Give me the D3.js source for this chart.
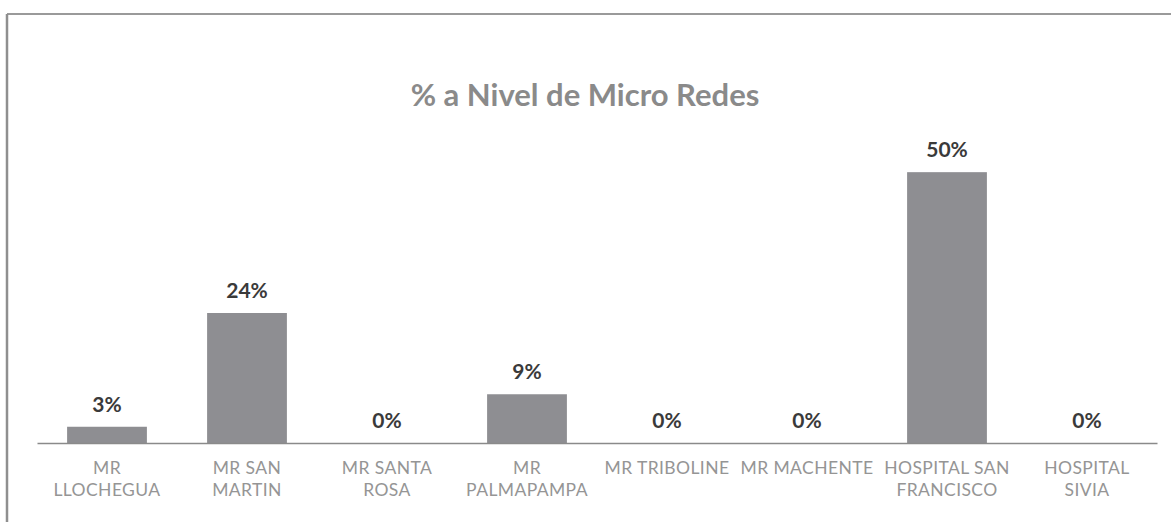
<!DOCTYPE html>
<html>
<head>
<meta charset="utf-8">
<script src="https://cdn.jsdelivr.net/npm/d3@7"></script>
<style>
  body { margin: 0; background: #fff; }
  svg { display: block; }
</style>
</head>
<body>
<div id="chart"></div>
<script>
const width = 1171;
const height = 522;

// data
const categories = ['MR LLOCHEGUA', 'MR SAN MARTIN', 'MR SANTA ROSA', 'MR PALMAPAMPA',
    'MR TRIBOLINE', 'MR MACHENTE', 'HOSPITAL SAN FRANCISCO', 'HOSPITAL SIVIA'];
const tickLines = [['MR', 'LLOCHEGUA'], ['MR SAN', 'MARTIN'], ['MR SANTA', 'ROSA'], ['MR', 'PALMAPAMPA'],
    ['MR TRIBOLINE'], ['MR MACHENTE'], ['HOSPITAL SAN', 'FRANCISCO'], ['HOSPITAL', 'SIVIA']];
const values = [3, 24, 0, 9, 0, 0, 50, 0];

const margin = {top: 118, right: 14, bottom: 79, left: 37};

const svg = d3.select('#chart').append('svg')
    .attr('width', width)
    .attr('height', height);

// frame of the scanned chart (top + left edges visible)
svg.append('line').attr('x1', 7).attr('x2', width).attr('y1', 14).attr('y2', 14)
    .attr('stroke', '#9a9a9a').attr('stroke-width', 2);
svg.append('line').attr('x1', 7).attr('x2', 7).attr('y1', 14).attr('y2', height)
    .attr('stroke', '#8f8f8f').attr('stroke-width', 2.5);

svg.append('text')
    .attr('x', 585)
    .attr('y', 106)
    .attr('text-anchor', 'middle')
    .style('font-family', 'Lato, sans-serif')
    .style('font-size', '31px')
    .style('font-weight', 'bold')
    .style('fill', '#8a8a8a')
    .text('% a Nivel de Micro Redes');

const x = d3.scaleBand()
    .domain(categories)
    .range([margin.left, width - margin.right])
    .paddingInner(0.43)
    .paddingOuter(0.215);

const y = d3.scaleLinear()
    .domain([0, 60])
    .range([height - margin.bottom, margin.top]);

const chart = svg.append('g');

chart.selectAll('rect.bar')
    .data(values)
    .join('rect')
    .attr('class', 'bar')
    .attr('x', (d, i) => x(categories[i]))
    .attr('y', d => y(d))
    .attr('width', x.bandwidth())
    .attr('height', d => y(0) - y(d))
    .style('fill', '#8e8e92');

chart.selectAll('text.val')
    .data(values)
    .join('text')
    .attr('class', 'val')
    .attr('x', (d, i) => x(categories[i]) + x.bandwidth() / 2)
    .attr('y', d => y(d) - 15)
    .attr('text-anchor', 'middle')
    .style('font-family', 'Lato, sans-serif')
    .style('font-size', '21px')
    .style('font-weight', 'bold')
    .style('fill', '#3a3a3a')
    .text(d => d + '%');

// axis
const xAxis = svg.append('g')
    .attr('transform', `translate(0,${y(0)})`)
    .call(d3.axisBottom(x).tickSize(0).tickFormat(''));
xAxis.select('.domain').attr('stroke', '#8a8a8a').attr('stroke-width', 1.5);

const ticks = svg.selectAll('text.cat')
    .data(categories)
    .join('text')
    .attr('class', 'cat')
    .attr('x', d => x(d) + x.bandwidth() / 2)
    .attr('y', y(0) + 31)
    .attr('text-anchor', 'middle')
    .style('font-family', 'Lato, sans-serif')
    .style('font-size', '17.5px')
    .style('letter-spacing', '0.4px')
    .style('fill', '#959595');

ticks.selectAll('tspan')
    .data((d, i) => tickLines[i])
    .join('tspan')
    .attr('x', function() { return d3.select(this.parentNode).attr('x'); })
    .attr('dy', (d, i) => i === 0 ? 0 : 22)
    .text(d => d);
</script>
</body>
</html>
